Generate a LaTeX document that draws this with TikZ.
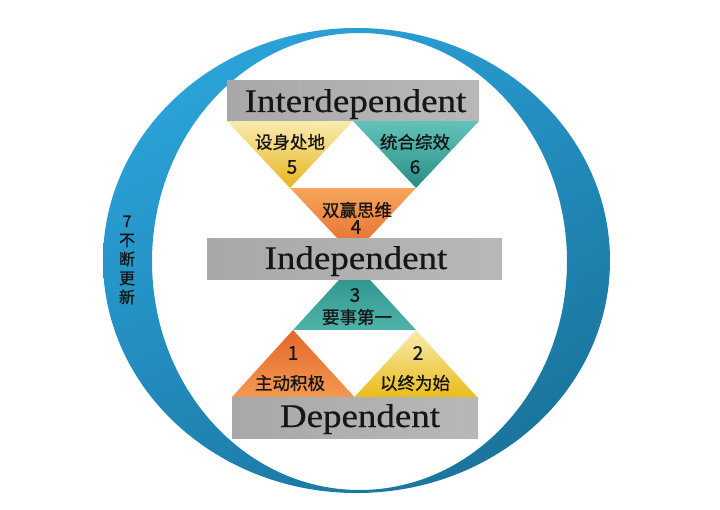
\documentclass[tikz,border=0pt]{standalone}
\usepackage{fontspec}
\usetikzlibrary{shadings}
\setmainfont{Liberation Serif}
\newfontfamily\barfont[FakeStretch=1.12,FakeBold=0.6]{Liberation Serif}
\newfontfamily\cjk[FakeBold=0.9]{Noto Sans CJK SC}
\definecolor{ringUL}{HTML}{2EAAE2}
\definecolor{ringUR}{HTML}{2493C6}
\definecolor{ringLL}{HTML}{1F84B3}
\definecolor{ringLR}{HTML}{186C92}
\definecolor{barL}{HTML}{A8A8A8}
\definecolor{barM}{HTML}{D9D9D9}
\definecolor{barR}{HTML}{B8B8B8}
\definecolor{yelT}{HTML}{F8EBB0}
\definecolor{yelB}{HTML}{E8B41E}
\definecolor{tealT}{HTML}{62C3BA}
\definecolor{tealB}{HTML}{278E85}
\definecolor{oraT}{HTML}{F6A75C}
\definecolor{oraB}{HTML}{E5652A}
\definecolor{txt}{HTML}{161616}
\tikzset{
  barbox/.style={rectangle, inner sep=0pt, draw=none, left color=barL, middle color=barM, right color=barR},
  bartext/.style={anchor=base, inner sep=0pt, text=txt, font=\barfont\fontsize{33}{36}\selectfont},
  cjktext/.style={inner sep=0pt, text=txt, font=\cjk\fontsize{17.5}{20}\selectfont},
  numtext/.style={inner sep=0pt, text=txt, font=\cjk\fontsize{19}{22}\selectfont},
}
\begin{document}
\begin{tikzpicture}[x=1pt,y=-1pt]
\useasboundingbox (0,0) rectangle (720,510);
\fill[white] (0,0) rectangle (720,510);
% ring
\shade[even odd rule, upper left=ringUL, upper right=ringUR, lower left=ringLL, lower right=ringLR]
  (356.5,260.5) ellipse [x radius=253.5, y radius=232.5]
  (359.5,261.5) ellipse [x radius=207.5, y radius=228.5];
% upper triangles
\coordinate (A) at (227,121);
\coordinate (B) at (479,121);
\coordinate (C) at (353,255);
\coordinate (Mab) at (353,121);
\coordinate (Mac) at (290,188);
\coordinate (Mbc) at (416,188);
\shade[top color=yelT, bottom color=yelB] (A) -- (Mab) -- (Mac) -- cycle;
\shade[top color=tealT, bottom color=tealB] (Mab) -- (B) -- (Mbc) -- cycle;
\shade[top color=oraT, bottom color=oraB] (Mac) -- (Mbc) -- (C) -- cycle;
% lower triangles
\coordinate (D) at (232,397);
\coordinate (E) at (477,397);
\coordinate (F) at (354.5,263);
\coordinate (Mde) at (354.5,397);
\coordinate (Mdf) at (293,330);
\coordinate (Mef) at (416,330);
\shade[top color=oraB, bottom color=oraT!80!oraB] (D) -- (Mde) -- (Mdf) -- cycle;
\shade[top color=yelT, bottom color=yelB!90!yellow] (Mde) -- (E) -- (Mef) -- cycle;
\shade[top color=tealB, bottom color=tealT!70!tealB] (Mdf) -- (Mef) -- (F) -- cycle;
% bars
\node[barbox, minimum width=252pt, minimum height=40pt] (barInter) at (353,101) {};
\node[barbox, minimum width=295pt, minimum height=41pt] (barIndep) at (354.5,259.5) {};
\node[barbox, minimum width=246pt, minimum height=41pt] (barDep) at (355,417.5) {};
\node[bartext] (tInter) at (355.5,112) {Interdependent};
\node[bartext] (tIndep) at (356,269) {Independent};
\node[bartext] (tDep) at (360,427) {Dependent};
% triangle labels
\node[cjktext] (h5) at (290,142) {设身处地};
\node[numtext] (n5) at (292,167) {5};
\node[cjktext] (h6) at (415,142) {统合综效};
\node[numtext] (n6) at (415,167) {6};
\node[cjktext] (h4) at (357,210) {双赢思维};
\node[numtext] (n4) at (356,227) {4};
\node[numtext] (n3) at (355,295) {3};
\node[cjktext] (h3) at (357,317) {要事第一};
\node[numtext] (n1) at (293,353) {1};
\node[cjktext] (h1) at (290,383) {主动积极};
\node[numtext] (n2) at (418,353) {2};
\node[cjktext] (h2) at (415,383) {以终为始};
% renewal label
\node[inner sep=0pt, text=txt, align=center, font=\cjk\fontsize{16}{19}\selectfont] (renew) at (127,260) {7\\不\\断\\更\\新};
\end{tikzpicture}
\end{document}
